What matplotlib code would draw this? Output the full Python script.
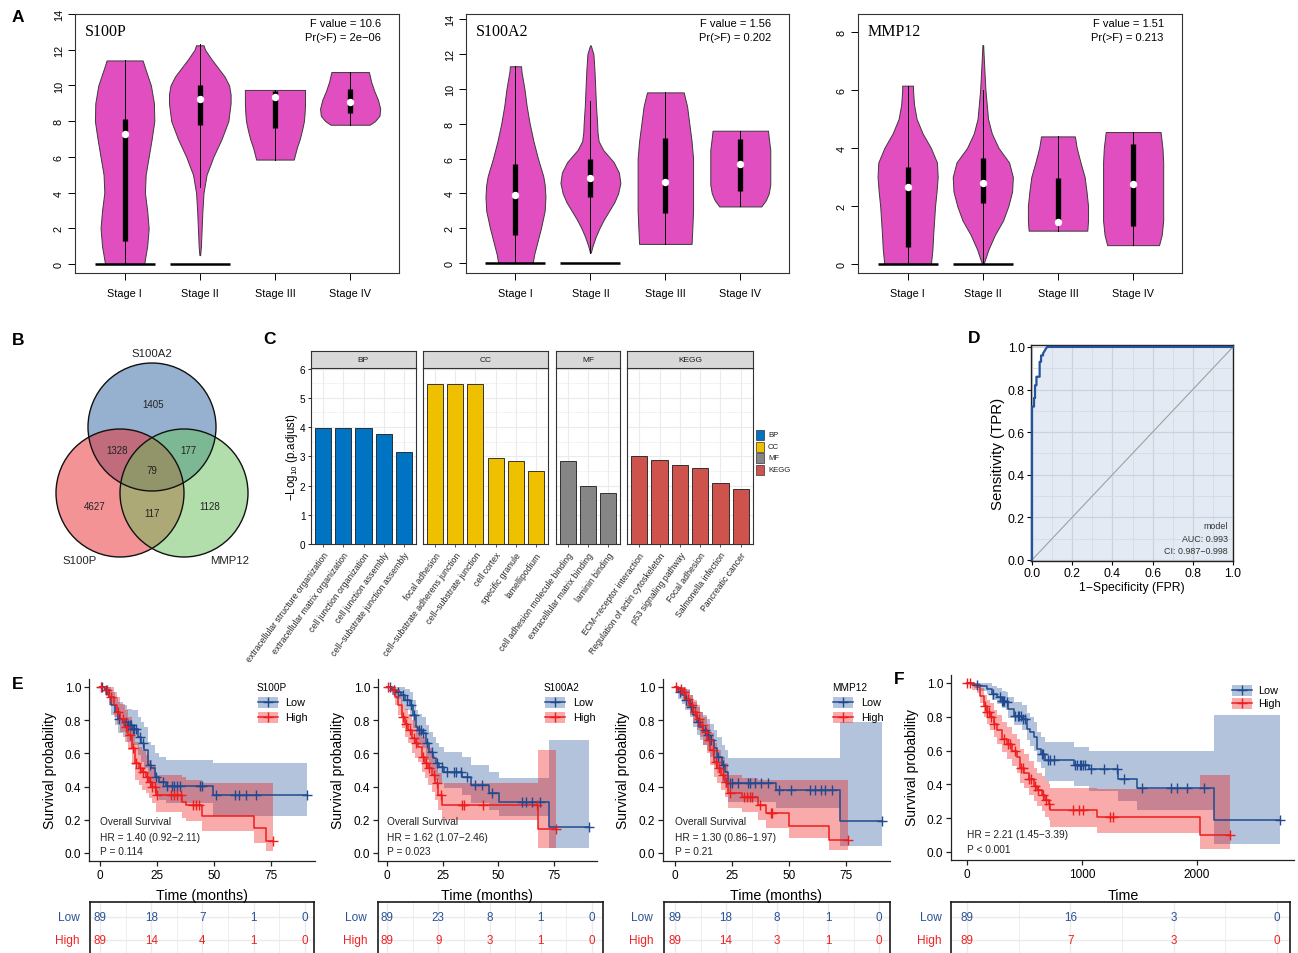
import numpy as np
import matplotlib
matplotlib.use('Agg')
import matplotlib.pyplot as plt
from matplotlib.patches import Circle, Rectangle
from matplotlib.ticker import MultipleLocator, FormatStrFormatter

W, H = 1298, 954
plt.rcParams['font.family'] = ['Liberation Sans', 'DejaVu Sans']
plt.rcParams['mathtext.fontset'] = 'custom'
plt.rcParams['mathtext.rm'] = 'Liberation Sans'

# ---------------- violin data (expression by stage) ----------------
stages = ['Stage I', 'Stage II', 'Stage III', 'Stage IV']
zero_stage = [1, 1, 0, 0]

s100p_y = [[0, 0.5, 1, 2, 3, 4, 5, 6, 7, 8, 9, 10, 11, 11.4],
           [0.5, 1, 2, 3, 4, 5, 6, 7, 8, 9, 9.5, 10, 10.5, 11, 11.5, 12, 12.25],
           [5.85, 6.5, 7, 7.5, 8, 8.5, 9, 9.75],
           [7.8, 8.0, 8.3, 8.7, 9.2, 9.7, 10.2, 10.75]]
s100p_w = [[0.26, 0.28, 0.30, 0.32, 0.30, 0.27, 0.28, 0.32, 0.36, 0.395, 0.39, 0.35, 0.27, 0.24],
           [0.005, 0.015, 0.025, 0.035, 0.05, 0.09, 0.18, 0.29, 0.38, 0.41, 0.41, 0.39, 0.33, 0.24, 0.15, 0.07, 0.05],
           [0.25, 0.29, 0.33, 0.36, 0.385, 0.395, 0.40, 0.40],
           [0.26, 0.33, 0.39, 0.40, 0.37, 0.32, 0.28, 0.25]]
s100p_box = [[0, 1.3, 7.3, 8.1, 11.4], [4.3, 7.8, 9.25, 10.05, 12.3],
             [5.85, 7.6, 9.35, 9.7, 9.75], [7.8, 8.45, 9.1, 9.8, 10.75]]

s100a2_y = [[0, 0.5, 1, 2, 3, 3.8, 4.5, 5, 6, 7, 8, 9, 10, 11, 11.3],
            [0.6, 1, 1.5, 2, 2.5, 3, 3.5, 4, 4.6, 5.2, 5.8, 6.5, 7, 7.5, 8, 9, 10, 11, 12, 12.5],
            [1.1, 2, 3, 4, 5, 6, 7, 8, 9, 9.8],
            [3.25, 3.6, 4, 4.5, 5.5, 6.5, 7.2, 7.6]]
s100a2_w = [[0.23, 0.25, 0.28, 0.34, 0.39, 0.40, 0.39, 0.37, 0.30, 0.24, 0.19, 0.15, 0.12, 0.08, 0.075],
            [0.005, 0.03, 0.07, 0.12, 0.18, 0.25, 0.32, 0.37, 0.40, 0.38, 0.31, 0.17, 0.11, 0.095, 0.09, 0.075, 0.065, 0.055, 0.04, 0.005],
            [0.35, 0.36, 0.37, 0.37, 0.37, 0.37, 0.35, 0.32, 0.29, 0.245],
            [0.28, 0.34, 0.38, 0.40, 0.40, 0.40, 0.38, 0.37]]
s100a2_box = [[0, 1.6, 3.9, 5.7, 11.3], [0.6, 3.8, 4.9, 6.0, 9.3],
              [1.1, 2.9, 4.65, 7.2, 9.8], [3.25, 4.15, 5.7, 7.1, 7.6]]

mmp12_y = [[0, 0.5, 1, 2, 2.5, 3, 3.5, 4, 4.5, 5, 5.5, 6, 6.15],
           [0, 0.5, 1, 1.5, 2, 2.5, 3, 3.5, 4, 4.5, 5, 6, 7, 7.55],
           [1.15, 1.5, 2, 2.5, 3, 3.5, 4, 4.4],
           [0.65, 1.0, 1.5, 2.5, 3.5, 4.0, 4.55]]
mmp12_w = [[0.31, 0.33, 0.34, 0.365, 0.385, 0.40, 0.39, 0.31, 0.20, 0.12, 0.085, 0.072, 0.072],
           [0.01, 0.075, 0.16, 0.27, 0.34, 0.39, 0.40, 0.35, 0.21, 0.12, 0.07, 0.035, 0.015, 0.005],
           [0.39, 0.40, 0.40, 0.38, 0.355, 0.30, 0.25, 0.225],
           [0.345, 0.38, 0.40, 0.40, 0.40, 0.39, 0.365]]
mmp12_box = [[0, 0.6, 2.65, 3.35, 6.15], [0, 2.1, 2.8, 3.65, 6.0],
             [1.15, 1.4, 1.45, 2.95, 4.4], [0.65, 1.3, 2.75, 4.15, 4.55]]

anova_f = ['10.6', '1.56', '1.51']
anova_p = ['2e\u221206', '0.202', '0.213']

# ---------------- venn ----------------
venn_names = ['S100P', 'S100A2', 'MMP12']
venn_only = [4627, 1405, 1128]
venn_pairs = [1328, 117, 177]   # P&A2, P&MMP12, A2&MMP12
venn_all = 79

# ---------------- enrichment ----------------
bp_terms = ['extracellular structure organization', 'extracellular matrix organization',
            'cell junction organization', 'cell junction assembly',
            'cell\u2212substrate junction assembly']
bp_vals = [3.98, 3.98, 3.98, 3.76, 3.13]
cc_terms = ['focal adhesion', 'cell\u2212substrate adherens junction', 'cell\u2212substrate junction',
            'cell cortex', 'specific granule', 'lamellipodium']
cc_vals = [5.48, 5.48, 5.48, 2.93, 2.85, 2.48]
mf_terms = ['cell adhesion molecule binding', 'extracellular matrix binding', 'laminin binding']
mf_vals = [2.85, 1.97, 1.74]
kegg_terms = ['ECM\u2212receptor interaction', 'Regulation of actin cytoskeleton',
              'p53 signaling pathway', 'Focal adhesion', 'Salmonella infection', 'Pancreatic cancer']
kegg_vals = [3.01, 2.89, 2.70, 2.60, 2.10, 1.88]

# ---------------- ROC ----------------
roc_fpr = [0, 0, 0.01, 0.01, 0.015, 0.015, 0.022, 0.022, 0.038, 0.038, 0.045, 0.045,
           0.055, 0.055, 0.062, 0.068, 0.075, 1.0]
roc_tpr = [0, 0.72, 0.72, 0.76, 0.76, 0.82, 0.82, 0.86, 0.86, 0.93, 0.93, 0.96,
           0.96, 0.97, 0.98, 0.99, 1.0, 1.0]

# ---------------- survival curves ----------------
t_low1 = [0, 2, 4, 5, 6.5, 8, 10, 12, 14, 16.5, 18, 19.5, 21, 22.5, 24, 26, 29, 49.5, 91]
s_low1 = [1.0, 0.98, 0.94, 0.89, 0.85, 0.81, 0.79, 0.77, 0.75, 0.70, 0.66, 0.62, 0.53, 0.51, 0.46, 0.43, 0.405, 0.35, 0.35]
lo_low1 = [1.0, 0.95, 0.89, 0.83, 0.77, 0.72, 0.70, 0.67, 0.65, 0.59, 0.55, 0.51, 0.42, 0.40, 0.35, 0.32, 0.30, 0.22, 0.22]
hi_low1 = [1.0, 1.0, 1.0, 0.97, 0.94, 0.91, 0.89, 0.87, 0.86, 0.82, 0.79, 0.76, 0.67, 0.65, 0.60, 0.58, 0.56, 0.54, 0.54]
c_low1 = [1, 2.5, 8.5, 11.5, 12.5, 13, 13.5, 14.5, 15, 16, 17.5, 19, 22, 24.5, 27.5, 29.5, 31.5,
          32.5, 34, 35, 44, 45, 51, 59.5, 61, 64, 68.5, 91]
t_high1 = [0, 2, 4, 6, 7.5, 9, 11, 12.5, 14, 15.5, 17, 18.5, 20, 21.5, 23, 24.5, 36, 38, 45, 67.5, 73, 76]
s_high1 = [1.0, 0.98, 0.94, 0.89, 0.85, 0.81, 0.76, 0.71, 0.63, 0.54, 0.51, 0.49, 0.46, 0.43, 0.40, 0.35, 0.31, 0.29, 0.225, 0.15, 0.075, 0.075]
lo_high1 = [1.0, 0.95, 0.89, 0.82, 0.78, 0.73, 0.67, 0.62, 0.53, 0.44, 0.41, 0.38, 0.36, 0.33, 0.30, 0.25, 0.21, 0.19, 0.13, 0.06, 0.015, 0.015]
hi_high1 = [1.0, 1.0, 1.0, 0.97, 0.94, 0.90, 0.86, 0.82, 0.75, 0.67, 0.64, 0.62, 0.59, 0.56, 0.53, 0.47, 0.46, 0.44, 0.42, 0.42, 0.42, 0.42]
c_high1 = [0.3, 3, 5, 8, 10, 11.5, 13, 14.5, 16, 17.5, 19, 20.5, 22, 23, 24, 25, 31, 32.5, 34,
           35.5, 41, 42, 43.5, 76]

t_low2 = [0, 2, 4, 6, 8, 10, 11.5, 13, 14, 15.5, 17.5, 19, 20.5, 22, 23.5, 25.5, 33.5, 37.5, 46, 50.5, 73, 91]
s_low2 = [1.0, 0.98, 0.97, 0.95, 0.92, 0.89, 0.83, 0.76, 0.74, 0.72, 0.66, 0.61, 0.57, 0.54, 0.52, 0.49, 0.46, 0.41, 0.36, 0.31, 0.155, 0.155]
lo_low2 = [1.0, 0.95, 0.93, 0.90, 0.86, 0.82, 0.75, 0.67, 0.65, 0.63, 0.56, 0.51, 0.47, 0.44, 0.42, 0.39, 0.35, 0.30, 0.26, 0.22, 0.03, 0.03]
hi_low2 = [1.0, 1.0, 1.0, 1.0, 0.99, 0.97, 0.92, 0.86, 0.84, 0.82, 0.77, 0.73, 0.70, 0.66, 0.64, 0.61, 0.58, 0.53, 0.49, 0.45, 0.68, 0.68]
c_low2 = [1, 3, 5, 7, 9, 10.5, 12, 14.5, 15, 16, 18, 20, 22.5, 24.5, 27, 30, 31, 33, 36, 39.5,
          42.5, 47, 60.5, 62.5, 65, 69, 91]
t_high2 = [0, 2, 3.5, 5, 6.5, 8, 9.5, 11, 12.5, 14, 15.5, 17, 18.5, 20, 21.5, 23, 24.5, 68, 76]
s_high2 = [1.0, 0.98, 0.94, 0.89, 0.82, 0.78, 0.74, 0.69, 0.66, 0.64, 0.58, 0.54, 0.51, 0.47, 0.42, 0.35, 0.29, 0.145, 0.145]
lo_high2 = [1.0, 0.95, 0.89, 0.83, 0.75, 0.70, 0.66, 0.60, 0.57, 0.55, 0.49, 0.45, 0.41, 0.37, 0.32, 0.26, 0.20, 0.03, 0.03]
hi_high2 = [1.0, 1.0, 0.99, 0.96, 0.90, 0.87, 0.84, 0.80, 0.77, 0.75, 0.70, 0.66, 0.63, 0.59, 0.55, 0.48, 0.42, 0.62, 0.62]
c_high2 = [0.5, 3, 7, 8.5, 10, 12, 13, 16, 17.5, 19, 21, 22.5, 24, 33.5, 34.5, 43, 67.5, 76]

t_low3 = [0, 1.5, 3, 4.5, 6.5, 8, 9.5, 11, 12.5, 14, 15.5, 17, 18.5, 20.5, 22, 23.5, 44.5, 72.5, 91]
s_low3 = [1.0, 0.97, 0.95, 0.92, 0.88, 0.83, 0.79, 0.76, 0.74, 0.71, 0.68, 0.63, 0.58, 0.53, 0.49, 0.42, 0.38, 0.19, 0.19]
lo_low3 = [1.0, 0.93, 0.90, 0.86, 0.82, 0.76, 0.71, 0.68, 0.65, 0.62, 0.58, 0.53, 0.48, 0.43, 0.39, 0.31, 0.27, 0.045, 0.045]
hi_low3 = [1.0, 1.0, 1.0, 0.99, 0.95, 0.91, 0.88, 0.85, 0.83, 0.81, 0.78, 0.74, 0.70, 0.65, 0.62, 0.57, 0.57, 0.79, 0.79]
c_low3 = [2, 5, 7, 10, 13, 14.5, 16, 19, 21, 24, 25, 27.5, 32, 33, 35, 38, 41, 45.5, 51, 59.5,
          61.5, 64, 66, 69, 91]
t_high3 = [0, 1.5, 3.5, 5, 6.5, 8, 9.5, 11, 12.5, 14, 15.5, 17, 18.5, 20, 22, 23.5, 29.5, 36.5, 40, 50, 67.5, 76]
s_high3 = [1.0, 0.99, 0.97, 0.93, 0.89, 0.85, 0.81, 0.77, 0.73, 0.68, 0.62, 0.55, 0.51, 0.47, 0.43, 0.36, 0.34, 0.29, 0.24, 0.16, 0.08, 0.08]
lo_high3 = [1.0, 0.97, 0.93, 0.88, 0.83, 0.79, 0.74, 0.70, 0.65, 0.60, 0.53, 0.46, 0.42, 0.38, 0.34, 0.27, 0.25, 0.20, 0.15, 0.09, 0.02, 0.02]
hi_high3 = [1.0, 1.0, 1.0, 0.98, 0.95, 0.92, 0.89, 0.85, 0.82, 0.78, 0.72, 0.66, 0.62, 0.58, 0.54, 0.47, 0.45, 0.44, 0.44, 0.44, 0.44, 0.44]
c_high3 = [0.5, 2.5, 4, 5.5, 7.5, 9, 10.5, 12, 13.5, 15, 16.5, 18, 19.5, 21, 22.5, 24, 30.5,
           31.5, 33, 34, 37.5, 42, 42.5, 76]

t_lowF = [0, 60, 115, 175, 215, 260, 305, 335, 360, 405, 480, 520, 550, 580, 610, 640, 680, 928, 1058, 1310, 1478, 2145, 2725]
s_lowF = [1.0, 0.99, 0.98, 0.965, 0.935, 0.915, 0.895, 0.885, 0.846, 0.807, 0.787, 0.728, 0.709, 0.679, 0.61, 0.58, 0.547, 0.516, 0.492, 0.433, 0.38, 0.19, 0.19]
lo_lowF = [1.0, 0.97, 0.955, 0.935, 0.90, 0.875, 0.85, 0.84, 0.79, 0.75, 0.72, 0.66, 0.63, 0.60, 0.53, 0.50, 0.42, 0.39, 0.36, 0.30, 0.246, 0.045, 0.045]
hi_lowF = [1.0, 1.0, 1.0, 1.0, 0.98, 0.97, 0.95, 0.945, 0.92, 0.89, 0.87, 0.82, 0.80, 0.77, 0.71, 0.68, 0.65, 0.62, 0.60, 0.595, 0.595, 0.81, 0.81]
c_lowF = [85, 230, 290, 305, 315, 325, 345, 420, 440, 455, 470, 490, 505, 650, 665, 700, 725, 760,
          940, 960, 980, 995, 1010, 1030, 1075, 1190, 1300, 1365, 1525, 1770, 1830, 1915, 2060, 2725]
t_highF = [0, 43, 87, 116, 145, 174, 203, 232, 261, 304, 348, 391, 435, 464, 493, 536, 580, 609, 652, 681, 710, 725, 1130, 2030, 2290]
s_highF = [1.0, 0.988, 0.974, 0.925, 0.866, 0.827, 0.797, 0.758, 0.719, 0.67, 0.64, 0.60, 0.56, 0.50, 0.47, 0.43, 0.39, 0.364, 0.335, 0.305, 0.285, 0.246, 0.207, 0.10, 0.10]
lo_highF = [1.0, 0.96, 0.94, 0.88, 0.80, 0.76, 0.72, 0.68, 0.64, 0.59, 0.55, 0.51, 0.47, 0.41, 0.38, 0.34, 0.30, 0.27, 0.24, 0.21, 0.19, 0.15, 0.11, 0.02, 0.02]
hi_highF = [1.0, 1.0, 1.0, 0.97, 0.93, 0.90, 0.88, 0.84, 0.81, 0.77, 0.74, 0.70, 0.67, 0.61, 0.58, 0.54, 0.50, 0.47, 0.45, 0.42, 0.40, 0.38, 0.37, 0.457, 0.457]
c_highF = [0, 30, 160, 175, 190, 205, 235, 320, 355, 375, 420, 470, 490, 540, 560, 590, 620, 660,
           690, 715, 920, 970, 1010, 1245, 1270, 2290]

risk_times_m = [0, 25, 50, 75, 100]
risk_times_d = [0, 1000, 2000, 3000]
risk_low = [[89, 18, 7, 1, 0], [89, 23, 8, 1, 0], [89, 18, 8, 1, 0], [89, 16, 3, 0]]
risk_high = [[89, 14, 4, 1, 0], [89, 9, 3, 1, 0], [89, 14, 3, 1, 0], [89, 7, 3, 0]]
km_genes = ['S100P', 'S100A2', 'MMP12', None]
km_stats = [['Overall Survival', 'HR = 1.40 (0.92\u22122.11)', 'P = 0.114'],
            ['Overall Survival', 'HR = 1.62 (1.07\u22122.46)', 'P = 0.023'],
            ['Overall Survival', 'HR = 1.30 (0.86\u22121.97)', 'P = 0.21'],
            ['HR = 2.21 (1.45\u22123.39)', 'P < 0.001']]

VIO = '#E04EBF'
BLUE_L, BLUE_F, BLUE_T = '#1F4A8F', '#2E5A9C', '#2A5294'
RED_L, RED_F, RED_T = '#EE1C1C', '#F01414', '#EE2222'

fig = plt.figure(figsize=(W / 100, H / 100), dpi=100)


def px_axes(x0, y0, x1, y1, **kw):
    return fig.add_axes([x0 / W, 1 - y1 / H, (x1 - x0) / W, (y1 - y0) / H], **kw)


# ================= A: violins =================
violin_sets = [('S100P', s100p_y, s100p_w, s100p_box, (75, 399), (-0.5, 14.0), range(0, 15, 2)),
               ('S100A2', s100a2_y, s100a2_w, s100a2_box, (466, 789), (-0.57, 14.3), range(0, 15, 2)),
               ('MMP12', mmp12_y, mmp12_w, mmp12_box, (858, 1182), (-0.31, 8.62), range(0, 9, 2))]
for k, (gene, ys, ws, box, (x0, x1), ylim, yt) in enumerate(violin_sets):
    ax = px_axes(x0, 15, x1, 274)
    for i in range(4):
        pos = i + 1
        y = np.array(ys[i])
        w = np.array(ws[i])
        ax.fill_betweenx(y, pos - w, pos + w, facecolor=VIO, edgecolor='#3a3a3a', lw=0.7, zorder=2)
        if zero_stage[i]:
            ax.plot([pos - 0.4, pos + 0.4], [0, 0], color='k', lw=1.8, zorder=3, solid_capstyle='butt')
        lo, q1, med, q3, hi = box[i]
        ax.plot([pos, pos], [lo, hi], color='k', lw=0.7, zorder=3)
        ax.plot([pos, pos], [q1, q3], color='k', lw=3.8, zorder=4, solid_capstyle='butt')
        ax.plot(pos, med, 'o', color='white', ms=4.3, mec='white', zorder=5)
    ax.set_xlim(0.34, 4.65)
    ax.set_ylim(*ylim)
    ax.set_xticks([1, 2, 3, 4], stages, fontsize=7.8)
    ax.set_yticks(list(yt))
    ax.tick_params(axis='y', labelrotation=90, labelsize=7.8, length=5, width=0.7, pad=3)
    ax.tick_params(axis='x', length=5, width=0.7, pad=6)
    for lab in ax.get_yticklabels():
        lab.set_va('center')
    for sp in ax.spines.values():
        sp.set_linewidth(0.8)
        sp.set_color('#333333')
    ax.text(0.03, 0.935, gene, transform=ax.transAxes, family='Liberation Serif',
            fontsize=11.5, va='center', ha='left')
    ax.text(0.944, 0.965, 'F value = ' + anova_f[k], transform=ax.transAxes,
            fontsize=8, ha='right', va='center')
    ax.text(0.944, 0.911, 'Pr(>F) = ' + anova_p[k], transform=ax.transAxes,
            fontsize=8, ha='right', va='center')

# ================= C: enrichment bars =================
go_panels = [('BP', bp_terms, bp_vals, '#0073C2', 311, 416),
             ('CC', cc_terms, cc_vals, '#EFC000', 423, 548),
             ('MF', mf_terms, mf_vals, '#868686', 556, 620),
             ('KEGG', kegg_terms, kegg_vals, '#CD534C', 627, 753)]
for j, (name, terms, vals, col, x0, x1) in enumerate(go_panels):
    n = len(terms)
    xs = np.arange(1, n + 1)
    ax = px_axes(x0, 369, x1, 545)
    ax.bar(xs, vals, width=0.8, color=col, edgecolor='#1a1a1a', lw=0.6, zorder=3)
    ax.set_xlim(0.4, n + 0.6)
    ax.set_ylim(0, 6.02)
    ax.yaxis.set_major_locator(MultipleLocator(1))
    ax.yaxis.set_minor_locator(MultipleLocator(0.5))
    ax.grid(which='major', color='#EBEBEB', lw=0.8, zorder=0)
    ax.grid(which='minor', axis='y', color='#EBEBEB', lw=0.4, zorder=0)
    ax.set_axisbelow(True)
    ax.set_xticks(xs)
    ax.set_xticklabels(terms, rotation=54, ha='right', rotation_mode='anchor',
                       fontsize=6.2, color='#262626')
    ax.tick_params(axis='x', length=2.5, width=0.6, color='#333333', pad=2)
    ax.tick_params(axis='y', which='minor', length=0)
    if j == 0:
        ax.tick_params(axis='y', labelsize=7.2, length=2.5, width=0.6, pad=1.5)
    else:
        ax.tick_params(axis='y', left=False, labelleft=False)
    for sp in ax.spines.values():
        sp.set_color('#333333')
        sp.set_linewidth(0.8)
    st = px_axes(x0, 352, x1, 369)
    st.set_facecolor('#D9D9D9')
    st.set_xticks([])
    st.set_yticks([])
    for sp in st.spines.values():
        sp.set_color('#333333')
        sp.set_linewidth(0.8)
    st.text(0.5, 0.5, name, ha='center', va='center', fontsize=6.0, color='#1a1a1a',
            transform=st.transAxes)

# ================= D: ROC =================
ax = px_axes(1031, 346, 1233, 562)
ax.fill_between(roc_fpr, roc_tpr, 0, color='#E3EAF3', lw=0, zorder=1)
ax.set_xlim(-0.005, 1.0)
ax.set_ylim(-0.005, 1.009)
ax.xaxis.set_major_locator(MultipleLocator(0.2))
ax.yaxis.set_major_locator(MultipleLocator(0.2))
ax.xaxis.set_minor_locator(MultipleLocator(0.1))
ax.yaxis.set_minor_locator(MultipleLocator(0.1))
ax.xaxis.set_major_formatter(FormatStrFormatter('%.1f'))
ax.yaxis.set_major_formatter(FormatStrFormatter('%.1f'))
ax.grid(which='major', color='#CAD3DD', lw=0.9)
ax.grid(which='minor', color='#D3DBE4', lw=0.6)
ax.set_axisbelow('line')
ax.plot([0, 1], [0, 1], color='#A0A0A0', lw=0.8, zorder=2)
ax.plot(roc_fpr, roc_tpr, color='#24549C', lw=1.6, zorder=3, clip_on=False)
ax.tick_params(which='major', labelsize=8.8, length=3, width=0.8, pad=1.5)
ax.tick_params(which='minor', length=0)
for sp in ax.spines.values():
    sp.set_color('#222222')
    sp.set_linewidth(1.0)
    sp.set_zorder(2.5)
ax.set_xlabel('1\u2212Specificity (FPR)', fontsize=8.8, labelpad=1)
ax.set_ylabel('Sensitivity (TPR)', fontsize=10.8, labelpad=2)
for yy, s in zip([0.16, 0.10, 0.042], ['model', 'AUC: 0.993', 'CI: 0.987\u22120.998']):
    ax.text(0.975, yy, s, ha='right', va='center', fontsize=6.4, color='#333333', zorder=4)

# ================= E/F: survival =================
km_layout = [((89, 680, 315, 862), 100.0, 2.276, 854, 688),
             ((378, 680, 597, 862), 387.3, 2.22, 854, 688),
             ((663, 680, 890, 862), 675.0, 2.276, 854, 688),
             ((951, 676, 1294, 861), 967.0, 0.115, 853, 684)]
km_curves = [[(t_low1, s_low1, lo_low1, hi_low1, c_low1), (t_high1, s_high1, lo_high1, hi_high1, c_high1)],
             [(t_low2, s_low2, lo_low2, hi_low2, c_low2), (t_high2, s_high2, lo_high2, hi_high2, c_high2)],
             [(t_low3, s_low3, lo_low3, hi_low3, c_low3), (t_high3, s_high3, lo_high3, hi_high3, c_high3)],
             [(t_lowF, s_lowF, lo_lowF, hi_lowF, c_lowF), (t_highF, s_highF, lo_highF, hi_highF, c_highF)]]
km_styles = [(BLUE_L, BLUE_F), (RED_L, RED_F)]

for k, ((x0, y0, x1, y1), t0px, sc, p0, p1) in enumerate(km_layout):
    ax = px_axes(x0, y0, x1, y1)
    ax.set_xlim((x0 - t0px) / sc, (x1 - t0px) / sc)
    unit = p0 - p1
    ax.set_ylim((p0 - y1) / unit, (p0 - y0) / unit)
    for (t, s, lo, hi, c), (lc, fc) in zip(km_curves[k], km_styles):
        ax.fill_between(t, lo, hi, step='post', color=fc, alpha=0.36, lw=0, zorder=1)
    for (t, s, lo, hi, c), (lc, fc) in zip(km_curves[k], km_styles):
        t = np.asarray(t, float)
        s = np.asarray(s, float)
        ax.step(t, s, where='post', color=lc, lw=1.1, zorder=3)
        idx = np.searchsorted(t, c, side='right') - 1
        ax.plot(c, s[idx], ls='none', marker='+', ms=6.5, mew=1.0, color=lc, zorder=4)
    ax.set_yticks([0, 0.2, 0.4, 0.6, 0.8, 1.0])
    ax.yaxis.set_major_formatter(FormatStrFormatter('%.1f'))
    if k < 3:
        ax.set_xticks([0, 25, 50, 75])
    else:
        ax.set_xticks([0, 1000, 2000])
    ax.tick_params(labelsize=8.5, length=3.5, width=0.9, pad=2, color='#222222')
    for side in ('top', 'right'):
        ax.spines[side].set_visible(False)
    for side in ('left', 'bottom'):
        ax.spines[side].set_linewidth(0.9)
        ax.spines[side].set_color('#222222')
    ax.patch.set_alpha(0)
    stats = km_stats[k]
    ys = [822, 838, 852] if len(stats) == 3 else [835, 850]
    for s, yy in zip(stats, ys):
        ax.text(0, (p0 - yy) / unit, s, fontsize=7.3, va='center', ha='left', color='#222222')

# risk tables
risk_layout = [(90, 314, 100.0, 2.05, risk_times_m), (378, 603, 387.0, 2.05, risk_times_m),
               (664, 890, 675.0, 2.04, risk_times_m), (951, 1290, 967.0, 0.1033, risk_times_d)]
for k, (x0, x1, t0px, sc, times) in enumerate(risk_layout):
    ax = px_axes(x0, 903, x1, 985)
    ax.set_xlim((x0 - t0px) / sc, (x1 - t0px) / sc)
    ax.set_ylim(82, 0)
    step = times[1] - times[0]
    for t in times:
        ax.axvline(t, color='#EBEBEB', lw=1.0, zorder=0)
        ax.axvline(t + step / 2, color='#EBEBEB', lw=0.6, zorder=0)
    for yy in (15, 38):
        ax.axhline(yy, color='#EBEBEB', lw=1.0, zorder=0)
    for t, a, b in zip(times, risk_low[k], risk_high[k]):
        ax.text(t, 15, str(a), color=BLUE_T, ha='center', va='center', fontsize=8.4)
        ax.text(t, 38, str(b), color=RED_T, ha='center', va='center', fontsize=8.4)
    ax.set_xticks([])
    ax.set_yticks([])
    for sp in ax.spines.values():
        sp.set_color('#1a1a1a')
        sp.set_linewidth(1.2)

# ================= overlay in pixel coordinates =================
ov = fig.add_axes([0, 0, 1, 1], zorder=20)
ov.set_xlim(0, W)
ov.set_ylim(H, 0)
ov.axis('off')

for lab, x, y in [('A', 18, 18), ('B', 18, 341), ('C', 270, 340), ('D', 974, 339),
                  ('E', 18, 685), ('F', 899, 680)]:
    ov.text(x, y, lab, fontsize=12.5, fontweight='bold', ha='center', va='center')

# B: venn
venn_xy = [(120, 494), (152, 428), (184, 494)]
venn_cols = ['#EB292D', '#2D65A1', '#65BF59']
for i in (1, 0, 2):
    ov.add_patch(Circle(venn_xy[i], 64, facecolor=venn_cols[i], alpha=0.5, lw=0))
for i in range(3):
    ov.add_patch(Circle(venn_xy[i], 64, fill=False, edgecolor='#111111', lw=1.0))
venn_txt = [(venn_only[0], 95, 507), (venn_only[1], 153, 405), (venn_only[2], 210, 507),
            (venn_pairs[0], 117, 451), (venn_pairs[1], 152, 514), (venn_pairs[2], 188, 451),
            (venn_all, 152, 471)]
for v, x, y in venn_txt:
    ov.text(x, y, str(v), ha='center', va='center', fontsize=7, color='#222222')
for name, x, y in zip(venn_names, [80, 152, 230], [561, 354, 561]):
    ov.text(x, y, name, ha='center', va='center', fontsize=8.2, color='#222222')

# C: y label and legend
ov.text(292, 457, '\u2212Log$_{10}$ (p.adjust)', rotation=90, ha='center', va='center', fontsize=8.3)
for i, (name, terms, vals, col, x0, x1) in enumerate(go_panels):
    yc = 436 + i * 11.5
    ov.add_patch(Rectangle((756, yc - 5), 8, 10, facecolor=col, edgecolor='#333333', lw=0.5))
    ov.text(768, yc, name, va='center', ha='left', fontsize=5.6, color='#222222')

# E/F: axis titles, legends and risk row labels
for k, (xc, ylx) in enumerate([(202, 50), (487, 338), (776, 623), (1123, 912)]):
    yc = 771 if k < 3 else 768
    ov.text(ylx, yc, 'Survival probability', rotation=90, ha='center', va='center', fontsize=10)
    ov.text(xc, 896, 'Time (months)' if k < 3 else 'Time', ha='center', va='center', fontsize=10.3)

km_leg = [(258, 285, 688, [703, 718]), (545, 573, 688, [703, 718]),
          (833, 861, 688, [703, 718]), (1232, 1258, None, [691, 704])]
for k, (kx, lx, ty, rows) in enumerate(km_leg):
    if km_genes[k]:
        ov.text(kx - 1, ty, km_genes[k], ha='left', va='center', fontsize=7.2)
    for (lab, lc, fc), y in zip([('Low', BLUE_L, BLUE_F), ('High', RED_L, RED_F)], rows):
        ov.add_patch(Rectangle((kx, y - 5.5), 20, 11, facecolor=fc, alpha=0.36, lw=0))
        ov.plot([kx, kx + 20], [y, y], color=lc, lw=1.1)
        ov.plot(kx + 10, y, '+', color=lc, ms=6.5, mew=1.0)
        ov.text(lx, y, lab, ha='left', va='center', fontsize=7.8)

for rx in [80, 367, 653, 942]:
    ov.text(rx, 918, 'Low', ha='right', va='center', fontsize=8.6, color=BLUE_T)
    ov.text(rx, 941, 'High', ha='right', va='center', fontsize=8.6, color=RED_T)

fig.savefig('out.png', dpi=100)
